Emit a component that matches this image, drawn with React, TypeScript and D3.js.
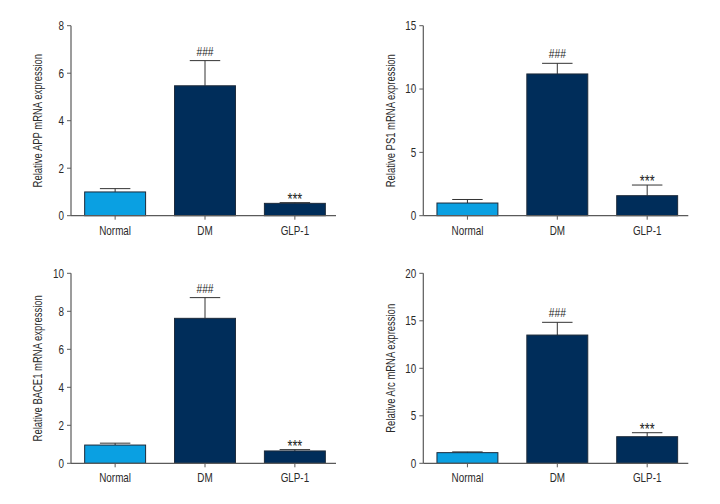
import React from "react";
import * as d3 from "d3";

const categories = ["Normal", "DM", "GLP-1"];
const marks = ["", "###", "***"];

const appMean = [1.0, 5.47, 0.52];
const appErr = [0.14, 1.06, 0.03];
const appTicks = [0, 2, 4, 6, 8];

const ps1Mean = [1.0, 11.19, 1.58];
const ps1Err = [0.28, 0.84, 0.84];
const ps1Ticks = [0, 5, 10, 15];

const bace1Mean = [0.96, 7.63, 0.65];
const bace1Err = [0.1, 1.09, 0.07];
const bace1Ticks = [0, 2, 4, 6, 8, 10];

const arcMean = [1.12, 13.5, 2.8];
const arcErr = [0.08, 1.34, 0.42];
const arcTicks = [0, 5, 10, 15, 20];

const FONT = "'Liberation Sans', Arial, sans-serif";
const SX = 0.79;
const barColors = ["#0aa0e2", "#002d5a", "#002d5a"];

function CText({
  x,
  y,
  size,
  anchor,
  rotate = 0,
  dy,
  children,
  fill = "#2a2a2a",
}: {
  x: number;
  y: number;
  size: number;
  anchor: "start" | "middle" | "end";
  rotate?: number;
  dy?: string;
  children: React.ReactNode;
  fill?: string;
}) {
  return (
    <g transform={`translate(${x},${y}) rotate(${rotate}) scale(${SX},1)`}>
      <text textAnchor={anchor} dy={dy} fontFamily={FONT} fontSize={size} fill={fill}>
        {children}
      </text>
    </g>
  );
}

type PanelProps = {
  x0: number;
  yTop: number;
  yBottom: number;
  means: number[];
  errs: number[];
  ticks: number[];
  label: string;
};

function Panel({ x0, yTop, yBottom, means, errs, ticks, label }: PanelProps) {
  const yMax = ticks[ticks.length - 1];
  const y = d3.scaleLinear().domain([0, yMax]).range([yBottom, yTop]);
  const x = d3
    .scaleBand<string>()
    .domain(categories)
    .range([x0, x0 + 268])
    .paddingInner(0.322)
    .paddingOuter(0.152);
  const bw = x.bandwidth();
  const axisColor = "#5a5a5a";
  return (
    <g>
      {categories.map((c, i) => {
        const bx = x(c)!;
        const cx = bx + bw / 2;
        const top = y(means[i]);
        const et = y(means[i] + errs[i]);
        const isStar = marks[i] === "***";
        return (
          <g key={c}>
            <line x1={cx} x2={cx} y1={top} y2={et} stroke="#333" strokeWidth={1} />
            <line x1={cx - bw / 4} x2={cx + bw / 4} y1={et} y2={et} stroke="#333" strokeWidth={1} />
            <rect
              x={bx}
              y={top}
              width={bw}
              height={yBottom - top}
              fill={barColors[i]}
              stroke="#1c2a3a"
              strokeWidth={1}
            />
            {marks[i] && (
              <CText
                x={cx}
                y={isStar ? et + 2 : et - 5}
                size={isStar ? 16 : 13}
                anchor="middle"
                fill="#222"
              >
                {marks[i]}
              </CText>
            )}
            <line x1={cx} x2={cx} y1={yBottom} y2={yBottom + 4} stroke={axisColor} strokeWidth={1} />
            <CText x={cx} y={yBottom + 19} size={12.5} anchor="middle">
              {c}
            </CText>
          </g>
        );
      })}
      <line x1={x0} x2={x0} y1={yTop} y2={yBottom} stroke={axisColor} strokeWidth={1.2} />
      <line x1={x0} x2={x0 + 265} y1={yBottom} y2={yBottom} stroke={axisColor} strokeWidth={1.2} />
      {ticks.map((t) => (
        <g key={t}>
          <line x1={x0 - 4} x2={x0} y1={y(t)} y2={y(t)} stroke={axisColor} strokeWidth={1} />
          <CText x={x0 - 7} y={y(t)} dy="0.35em" size={12.5} anchor="end">
            {t}
          </CText>
        </g>
      ))}
      <CText x={x0 - 33} y={(yTop + yBottom) / 2} rotate={-90} dy="0.35em" size={12} anchor="middle">
        {label}
      </CText>
    </g>
  );
}

export default function App() {
  return (
    <svg
      width={720}
      height={504}
      style={{ position: "absolute", left: 0, top: 0, background: "#fff" }}
    >
      <rect width={720} height={504} fill="#fff" />
      <Panel x0={71} yTop={25.7} yBottom={215.7} means={appMean} errs={appErr} ticks={appTicks} label="Relative APP mRNA expression" />
      <Panel x0={423.3} yTop={25.7} yBottom={215.7} means={ps1Mean} errs={ps1Err} ticks={ps1Ticks} label="Relative PS1 mRNA expression" />
      <Panel x0={71} yTop={273.3} yBottom={463.3} means={bace1Mean} errs={bace1Err} ticks={bace1Ticks} label="Relative BACE1 mRNA expression" />
      <Panel x0={423.3} yTop={273.3} yBottom={463.3} means={arcMean} errs={arcErr} ticks={arcTicks} label="Relative Arc mRNA expression" />
    </svg>
  );
}
